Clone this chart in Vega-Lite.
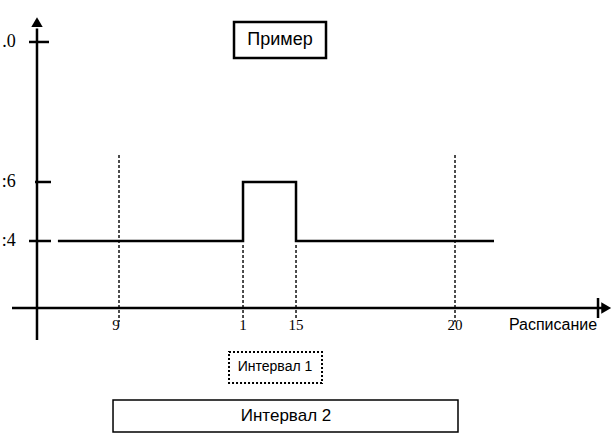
{
  "$schema": "https://vega.github.io/schema/vega-lite/v6.json",
  "width": 615,
  "height": 437,
  "padding": 0,
  "autosize": {"type": "fit", "contains": "padding"},
  "background": "white",
  "config": {"view": {"stroke": null}},
  "datasets": {
    "axes": [
      {"name": "y-axis", "x": 6.315, "x2": 6.315, "y": 20.644, "y2": 31.2},
      {"name": "x-axis", "x": 5.497, "x2": 24.85, "y": 21.729, "y2": 21.729},
      {"name": "ytick30", "x": 6.054, "x2": 6.708, "y": 30.746, "y2": 30.746},
      {"name": "ytick26", "x": 6.25, "x2": 6.774, "y": 26, "y2": 26},
      {"name": "ytick24", "x": 6.054, "x2": 6.774, "y": 24, "y2": 24},
      {"name": "xend", "x": 24.682, "x2": 24.682, "y": 21.39, "y2": 22.068}
    ],
    "dashed": [
      {"x": 9, "y": 26.915, "y2": 21.254},
      {"x": 20, "y": 26.915, "y2": 21.254},
      {"x": 13.06, "y": 23.864, "y2": 21.322},
      {"x": 14.795, "y": 23.864, "y2": 21.322}
    ],
    "step": [
      {"order": 1, "x": 7.0, "y": 24},
      {"order": 2, "x": 13.06, "y": 24},
      {"order": 3, "x": 13.06, "y": 26},
      {"order": 4, "x": 14.795, "y": 26},
      {"order": 5, "x": 14.795, "y": 24},
      {"order": 6, "x": 21.277, "y": 24}
    ],
    "arrows": [
      {"x": 6.315, "y": 31.42, "shape": "triangle-up"},
      {"x": 24.95, "y": 21.729, "shape": "triangle-right"}
    ],
    "ylabels": [
      {"x": 5.62, "y": 30.746, "text": ".0"},
      {"x": 5.62, "y": 26, "text": ":6"},
      {"x": 5.62, "y": 24, "text": ":4"}
    ],
    "xlabels": [
      {"x": 8.9, "y": 21.15, "text": "9"},
      {"x": 13.06, "y": 21.15, "text": "1"},
      {"x": 14.795, "y": 21.15, "text": "15"},
      {"x": 20, "y": 21.15, "text": "20"}
    ],
    "boxes": [
      {"name": "Пример", "x": 12.765, "x2": 15.777, "y": 31.424, "y2": 30.203, "tx": 14.271, "ty": 30.814}
    ],
    "box1": [
      {"name": "Интервал 1", "x": 12.601, "x2": 15.646, "y": 20.237, "y2": 19.186, "tx": 14.107, "ty": 19.729}
    ],
    "box2": [
      {"name": "Интервал 2", "x": 8.804, "x2": 20.098, "y": 18.61, "y2": 17.525, "tx": 14.467, "ty": 18.068}
    ],
    "caption": [
      {"text": "Расписание", "x": 23.209, "y": 21.153}
    ]
  },
  "layer": [
    {
      "data": {"name": "dashed"},
      "mark": {"type": "rule", "color": "black", "strokeWidth": 1.4, "strokeDash": [3, 2]},
      "encoding": {
        "x": {"field": "x", "type": "quantitative", "scale": {"domain": [5.104, 25.238], "nice": false, "zero": false}, "axis": null},
        "y": {"field": "y", "type": "quantitative", "scale": {"domain": [17.356, 32.169], "nice": false, "zero": false}, "axis": null},
        "y2": {"field": "y2"}
      }
    },
    {
      "data": {"name": "axes"},
      "mark": {"type": "rule", "color": "black", "strokeWidth": 2.5},
      "encoding": {
        "x": {"field": "x", "type": "quantitative"},
        "x2": {"field": "x2"},
        "y": {"field": "y", "type": "quantitative"},
        "y2": {"field": "y2"}
      }
    },
    {
      "data": {"name": "step"},
      "mark": {"type": "line", "color": "black", "strokeWidth": 2.5, "strokeJoin": "miter"},
      "encoding": {
        "x": {"field": "x", "type": "quantitative"},
        "y": {"field": "y", "type": "quantitative"},
        "order": {"field": "order"}
      }
    },
    {
      "data": {"name": "arrows"},
      "mark": {"type": "point", "filled": true, "color": "black", "size": 130, "opacity": 1},
      "encoding": {
        "x": {"field": "x", "type": "quantitative"},
        "y": {"field": "y", "type": "quantitative"},
        "shape": {"field": "shape", "type": "nominal", "scale": null}
      }
    },
    {
      "data": {"name": "ylabels"},
      "mark": {"type": "text", "align": "right", "baseline": "middle", "font": "Liberation Serif", "fontSize": 18, "color": "black"},
      "encoding": {
        "x": {"field": "x", "type": "quantitative"},
        "y": {"field": "y", "type": "quantitative"},
        "text": {"field": "text"}
      }
    },
    {
      "data": {"name": "xlabels"},
      "mark": {"type": "text", "align": "center", "baseline": "middle", "font": "Liberation Serif", "fontSize": 15, "color": "black"},
      "encoding": {
        "x": {"field": "x", "type": "quantitative"},
        "y": {"field": "y", "type": "quantitative"},
        "text": {"field": "text"}
      }
    },
    {
      "data": {"name": "caption"},
      "mark": {"type": "text", "align": "center", "baseline": "middle", "font": "Liberation Sans", "fontSize": 16, "color": "black"},
      "encoding": {
        "x": {"field": "x", "type": "quantitative"},
        "y": {"field": "y", "type": "quantitative"},
        "text": {"field": "text"}
      }
    },
    {
      "data": {"name": "boxes"},
      "mark": {"type": "rect", "fill": "white", "stroke": "black", "strokeWidth": 2.5},
      "encoding": {
        "x": {"field": "x", "type": "quantitative"},
        "x2": {"field": "x2"},
        "y": {"field": "y", "type": "quantitative"},
        "y2": {"field": "y2"}
      }
    },
    {
      "data": {"name": "boxes"},
      "mark": {"type": "text", "align": "center", "baseline": "middle", "font": "Liberation Sans", "fontSize": 18, "color": "black"},
      "encoding": {
        "x": {"field": "tx", "type": "quantitative"},
        "y": {"field": "ty", "type": "quantitative"},
        "text": {"field": "name"}
      }
    },
    {
      "data": {"name": "box1"},
      "mark": {"type": "rect", "fill": "white", "stroke": "black", "strokeWidth": 2, "strokeDash": [2, 2]},
      "encoding": {
        "x": {"field": "x", "type": "quantitative"},
        "x2": {"field": "x2"},
        "y": {"field": "y", "type": "quantitative"},
        "y2": {"field": "y2"}
      }
    },
    {
      "data": {"name": "box1"},
      "mark": {"type": "text", "align": "center", "baseline": "middle", "font": "Liberation Sans", "fontSize": 14, "color": "black"},
      "encoding": {
        "x": {"field": "tx", "type": "quantitative"},
        "y": {"field": "ty", "type": "quantitative"},
        "text": {"field": "name"}
      }
    },
    {
      "data": {"name": "box2"},
      "mark": {"type": "rect", "fill": "white", "stroke": "black", "strokeWidth": 1.5},
      "encoding": {
        "x": {"field": "x", "type": "quantitative"},
        "x2": {"field": "x2"},
        "y": {"field": "y", "type": "quantitative"},
        "y2": {"field": "y2"}
      }
    },
    {
      "data": {"name": "box2"},
      "mark": {"type": "text", "align": "center", "baseline": "middle", "font": "Liberation Sans", "fontSize": 17, "color": "black"},
      "encoding": {
        "x": {"field": "tx", "type": "quantitative"},
        "y": {"field": "ty", "type": "quantitative"},
        "text": {"field": "name"}
      }
    }
  ]
}
